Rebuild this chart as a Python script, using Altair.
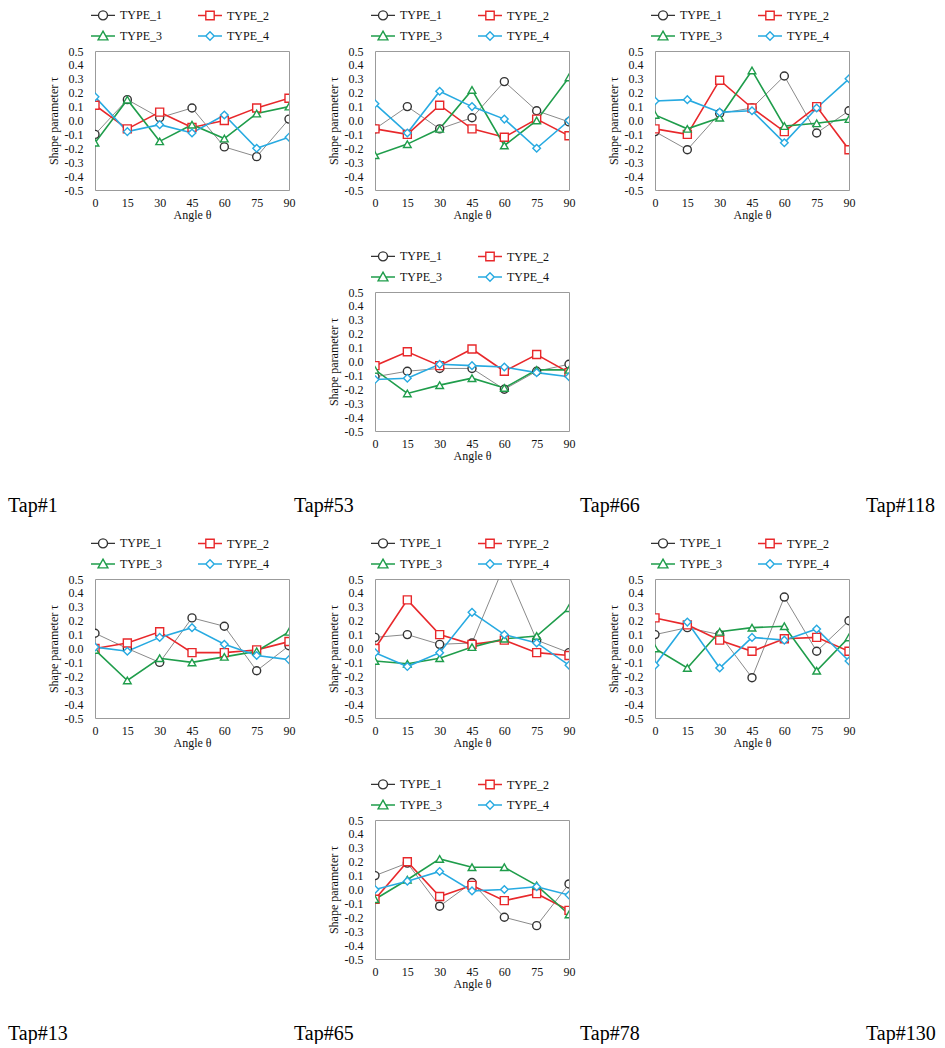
import altair as alt
import pandas as pd

ANGLES = [0, 15, 30, 45, 60, 75, 90]
TYPES = ["TYPE_1", "TYPE_2", "TYPE_3", "TYPE_4"]
Y_TICKS = [-0.5, -0.4, -0.3, -0.2, -0.1, 0.0, 0.1, 0.2, 0.3, 0.4, 0.5]

# ---- Tap#1
TAP1_T1 = [-0.10, 0.15, 0.02, 0.09, -0.19, -0.26, 0.01]
TAP1_T2 = [0.11, -0.06, 0.06, -0.05, 0.00, 0.09, 0.16]
TAP1_T3 = [-0.16, 0.15, -0.15, -0.03, -0.13, 0.05, 0.10]
TAP1_T4 = [0.17, -0.08, -0.03, -0.09, 0.04, -0.20, -0.12]
# ---- Tap#53
TAP53_T1 = [-0.06, 0.10, -0.06, 0.02, 0.28, 0.07, -0.01]
TAP53_T2 = [-0.06, -0.10, 0.11, -0.06, -0.12, 0.01, -0.11]
TAP53_T3 = [-0.25, -0.17, -0.06, 0.22, -0.18, 0.00, 0.31]
TAP53_T4 = [0.12, -0.09, 0.21, 0.10, 0.01, -0.20, 0.00]
# ---- Tap#66
TAP66_T1 = [-0.08, -0.21, 0.05, 0.09, 0.32, -0.09, 0.07]
TAP66_T2 = [-0.06, -0.10, 0.29, 0.09, -0.08, 0.10, -0.21]
TAP66_T3 = [0.04, -0.06, 0.02, 0.36, -0.04, -0.02, 0.01]
TAP66_T4 = [0.14, 0.15, 0.06, 0.07, -0.16, 0.09, 0.30]
# ---- Tap#118
TAP118_T1 = [-0.11, -0.07, -0.05, -0.05, -0.20, -0.07, -0.02]
TAP118_T2 = [-0.03, 0.07, -0.03, 0.09, -0.07, 0.05, -0.08]
TAP118_T3 = [-0.06, -0.23, -0.17, -0.12, -0.19, -0.06, -0.06]
TAP118_T4 = [-0.13, -0.12, -0.02, -0.03, -0.04, -0.08, -0.11]
# ---- Tap#13
TAP13_T1 = [0.11, 0.00, -0.10, 0.22, 0.16, -0.16, 0.02]
TAP13_T2 = [0.00, 0.04, 0.12, -0.03, -0.03, -0.01, 0.05]
TAP13_T3 = [-0.01, -0.23, -0.07, -0.10, -0.06, -0.02, 0.12]
TAP13_T4 = [0.01, -0.02, 0.08, 0.15, 0.03, -0.05, -0.08]
# ---- Tap#65
TAP65_T1 = [0.08, 0.10, 0.03, 0.04, 0.60, 0.06, -0.03]
TAP65_T2 = [0.00, 0.35, 0.10, 0.03, 0.06, -0.03, -0.05]
TAP65_T3 = [-0.09, -0.11, -0.07, 0.01, 0.07, 0.09, 0.29]
TAP65_T4 = [-0.03, -0.13, -0.03, 0.26, 0.10, 0.04, -0.12]
# ---- Tap#78
TAP78_T1 = [0.10, 0.15, 0.10, -0.21, 0.37, -0.02, 0.20]
TAP78_T2 = [0.22, 0.17, 0.06, -0.02, 0.07, 0.08, -0.02]
TAP78_T3 = [0.00, -0.14, 0.12, 0.15, 0.16, -0.16, 0.08]
TAP78_T4 = [-0.12, 0.19, -0.14, 0.08, 0.06, 0.14, -0.09]
# ---- Tap#130
TAP130_T1 = [0.10, 0.19, -0.12, 0.05, -0.20, -0.26, 0.04]
TAP130_T2 = [-0.07, 0.20, -0.05, 0.03, -0.08, -0.03, -0.15]
TAP130_T3 = [-0.07, 0.07, 0.22, 0.16, 0.16, 0.03, -0.18]
TAP130_T4 = [0.00, 0.06, 0.13, -0.01, 0.00, 0.02, -0.04]

LABELS_TOP = ["Tap#1", "Tap#53", "Tap#66", "Tap#118"]
LABELS_BOTTOM = ["Tap#13", "Tap#65", "Tap#78", "Tap#130"]

LINE_COLORS = ["#8a8a8a", "#e8282b", "#1f9d4b", "#27aae1"]
MARKER_COLORS = ["#333333", "#e8282b", "#1f9d4b", "#27aae1"]
LINE_WIDTHS = [1.0, 1.6, 1.6, 1.6]
SHAPES = ["circle", "square", "triangle-up", "diamond"]
SIZES = [64, 64, 58, 58]

# legend glyphs: marker with a line through it
LEG_PATHS = [
    "M-1.714,0L-0.643,0M0.643,0L1.714,0M-0.643,0A0.643,0.643,0,1,1,0.643,0A0.643,0.643,0,1,1,-0.643,0",
    "M-1.714,0L-0.6,0M0.6,0L1.714,0M-0.6,-0.6L0.6,-0.6L0.6,0.6L-0.6,0.6Z",
    "M-1.714,0L-0.4,0M0.4,0L1.714,0M0,-0.7L0.7,0.55L-0.7,0.55Z",
    "M-1.714,0L-0.6,0M0.6,0L1.714,0M0,-0.6L0.6,0L0,0.6L-0.6,0Z",
]

FONT = "Liberation Serif"


def make_df(series):
    rows = []
    for t, vals in zip(TYPES, series):
        for a, v in zip(ANGLES, vals):
            rows.append({"angle": a, "tau": v, "type": t})
    return pd.DataFrame(rows)


LEG = alt.Legend(
    title=None,
    orient="none",
    direction="horizontal",
    legendX=0,
    legendY=-44,
    columns=2,
    symbolSize=196,
    symbolStrokeWidth=1.4,
    symbolFillColor="white",
    symbolOpacity=1,
    labelFont=FONT,
    labelFontSize=12,
    labelColor="#111111",
    labelOffset=9,
    columnPadding=33,
    rowPadding=5,
)


def panel(series):
    df = make_df(series)
    base = alt.Chart(df)
    xenc = alt.X(
        "angle:Q",
        scale=alt.Scale(domain=[0, 90], nice=False, zero=False),
        axis=alt.Axis(values=ANGLES, title="Angle θ", ticks=False, domain=False,
                      grid=False, labelPadding=7, titlePadding=1, labelFlush=False),
    )
    yenc = alt.Y(
        "tau:Q",
        scale=alt.Scale(domain=[-0.5, 0.5], nice=False, zero=False),
        axis=alt.Axis(values=Y_TICKS, title="Shape parameter τ", ticks=False,
                      domain=False, grid=False, labelPadding=12, titlePadding=4,
                      format=".1f", labelFlush=False,
                      labelExpr="replace(datum.label, '\u2212', '-')"),
    )
    layers = []
    for t, c, w in zip(TYPES, LINE_COLORS, LINE_WIDTHS):
        layers.append(
            base.transform_filter(alt.datum.type == t)
            .mark_line(color=c, strokeWidth=w, clip=True)
            .encode(x=xenc, y=yenc)
        )
    for t, c, s, z in zip(TYPES, MARKER_COLORS, SHAPES, SIZES):
        layers.append(
            base.transform_filter(alt.datum.type == t)
            .mark_point(shape=s, color=c, filled=False, fill="white", fillOpacity=1,
                        size=z, strokeWidth=1.4, opacity=1, clip=True)
            .encode(x=xenc, y=yenc)
        )
    # invisible layer that only drives the legend
    leg_layer = base.mark_point(filled=False, fill="white", opacity=0, clip=True).encode(
        x=xenc,
        y=yenc,
        color=alt.Color("type:N", scale=alt.Scale(domain=TYPES, range=MARKER_COLORS), legend=LEG),
        shape=alt.Shape("type:N", scale=alt.Scale(domain=TYPES, range=LEG_PATHS), legend=LEG),
    )
    layers.append(leg_layer)
    return alt.layer(*layers).properties(width=194, height=139)


def spacer(w):
    return (
        alt.Chart(pd.DataFrame({"v": [0.0]}))
        .mark_point(opacity=0, size=1)
        .encode(x=alt.X("v:Q", axis=None), y=alt.Y("v:Q", axis=None))
        .properties(width=w, height=10, view=alt.ViewBackground(strokeOpacity=0))
    )


def labels_row(labels):
    df = pd.DataFrame({"label": labels, "slot": list(range(len(labels)))})
    return (
        alt.Chart(df)
        .mark_text(align="left", baseline="middle", font=FONT, fontSize=20, color="black")
        .encode(x=alt.X("slot:Q", axis=None, scale=alt.Scale(domain=[0, 3], nice=False, zero=False)),
                text="label:N")
        .properties(width=858, height=20, view=alt.ViewBackground(strokeOpacity=0))
    )


def indep(c):
    return c.resolve_scale(color="independent", shape="independent").resolve_legend(
        color="independent", shape="independent")


p1 = panel([TAP1_T1, TAP1_T2, TAP1_T3, TAP1_T4])
p2 = panel([TAP53_T1, TAP53_T2, TAP53_T3, TAP53_T4])
p3 = panel([TAP66_T1, TAP66_T2, TAP66_T3, TAP66_T4])
p4 = panel([TAP118_T1, TAP118_T2, TAP118_T3, TAP118_T4])
p5 = panel([TAP13_T1, TAP13_T2, TAP13_T3, TAP13_T4])
p6 = panel([TAP65_T1, TAP65_T2, TAP65_T3, TAP65_T4])
p7 = panel([TAP78_T1, TAP78_T2, TAP78_T3, TAP78_T4])
p8 = panel([TAP130_T1, TAP130_T2, TAP130_T3, TAP130_T4])

SP = 30


def group(a, b, c, d, labels):
    r1 = indep(alt.hconcat(spacer(8), a, b, c, spacing=SP))
    r2 = indep(alt.hconcat(spacer(288), d, spacing=SP))
    rows = indep(alt.vconcat(r1, r2, spacing=26))
    return indep(alt.vconcat(rows, labels_row(labels), spacing=34))


chart = (
    indep(alt.vconcat(
        group(p1, p2, p3, p4, LABELS_TOP),
        group(p5, p6, p7, p8, LABELS_BOTTOM),
        spacing=18,
    ))
    .properties(padding={"left": 8, "top": 6, "right": 0, "bottom": 0}, background="white")
    .configure_view(stroke="#9b9b9b", strokeWidth=1)
    .configure_axis(labelFont=FONT, titleFont=FONT, labelFontSize=12, titleFontSize=12,
                    titleFontWeight="normal", labelColor="#111111", titleColor="#111111")
)

chart.save("out.html", embed_options={"renderer": "svg", "actions": False})
